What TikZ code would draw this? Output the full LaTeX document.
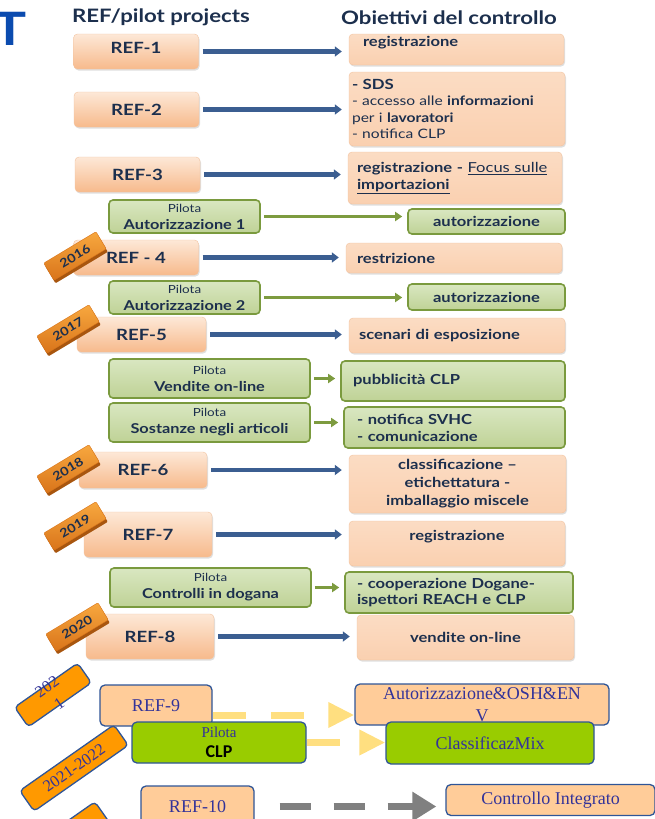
\documentclass[tikz,border=0pt]{standalone}
\usepackage{fontspec}
\setmainfont{Lato}[FakeStretch=1.2]
\newfontfamily\tmsfont{Liberation Serif}
\newfontfamily\clpfont{Carlito}
\usetikzlibrary{arrows.meta,shadows}
\definecolor{navytext}{HTML}{1C2F4D}
\definecolor{titleblue}{HTML}{0B4BAF}
\definecolor{peachtop}{HTML}{FDE8D7}
\definecolor{peachbot}{HTML}{F7BA8C}
\definecolor{peachflat}{HTML}{FAD0B0}
\definecolor{peachedge}{HTML}{F2C3A0}
\definecolor{greentop}{HTML}{D9E7C1}
\definecolor{greenbot}{HTML}{BFD296}
\definecolor{oliveline}{HTML}{7A9A3E}
\definecolor{arrowblue}{HTML}{3B5E91}
\definecolor{arrowgreen}{HTML}{7D9B3F}
\definecolor{badgetop}{HTML}{F7A83F}
\definecolor{badgebot}{HTML}{D9741A}
\definecolor{badgeside}{HTML}{A8560F}
\definecolor{oldpeach}{HTML}{FFCC99}
\definecolor{oldgreen}{HTML}{99CC00}
\definecolor{oldorange}{HTML}{FF9900}
\definecolor{oldborder}{HTML}{2F5597}
\definecolor{oldtext}{HTML}{333399}
\definecolor{dashyellow}{HTML}{FFDF80}
\definecolor{dashgray}{HTML}{808080}
\newcommand\pbold[1]{{\bfseries\fontsize{13.6}{17}\selectfont #1}}
\tikzset{refbox/.style={rounded corners=4pt,draw=peachedge,top color=peachtop,bottom color=peachbot,
           drop shadow={shadow xshift=1pt,shadow yshift=-1.5pt,opacity=.25},text=navytext,
           font=\bfseries\fontsize{15.5}{18}\selectfont,minimum width=125pt,minimum height=35pt,inner sep=0pt},
         goalbox/.style={rounded corners=4pt,draw=peachedge,top color=peachtop!50!peachflat,bottom color=peachflat,
           drop shadow={shadow xshift=1pt,shadow yshift=-1.5pt,opacity=.25},text=navytext,
           font=\bfseries\fontsize{13.8}{17}\selectfont,minimum width=216pt,inner sep=0pt},
         pilotbox/.style={rounded corners=4pt,draw=oliveline,line width=1.6pt,top color=greentop,bottom color=greenbot,
           text=navytext,align=center,font=\fontsize{11.2}{17}\selectfont,inner sep=0pt},
         goalgreen/.style={pilotbox,font=\bfseries\fontsize{13.8}{17}\selectfont},
         yearbadge/.style={rotate=31,rounded corners=1pt,draw=badgebot,top color=badgetop,bottom color=badgebot,
           text=navytext,font=\bfseries\fontsize{12}{12}\selectfont,minimum width=61pt,minimum height=20pt,
           inner sep=0pt,drop shadow={shadow xshift=1.5pt,shadow yshift=-3pt,fill=badgeside,opacity=1}},
         refarrow/.style={draw=arrowblue,line width=4.5pt,-{Triangle[length=7pt,width=10pt]},
           shorten <=4pt,shorten >=7pt},
         pilotarrow/.style={draw=arrowgreen,line width=3.5pt,-{Triangle[length=7pt,width=9pt]},
           shorten <=3pt,shorten >=5pt},
         oldbox/.style={rounded corners=5pt,draw=oldborder,line width=1.3pt,fill=oldpeach,text=oldtext,
           font=\tmsfont\fontsize{18}{22}\selectfont,inner sep=0pt},
         oldgreenbox/.style={oldbox,fill=oldgreen},
         oldbadge/.style={rotate=35,rounded corners=4pt,draw=oldborder,line width=1.3pt,fill=oldorange,
           text=oldtext,font=\tmsfont\fontsize{16.5}{21}\selectfont,inner sep=0pt,minimum height=25pt},
         yellowdash/.style={draw=dashyellow,line width=7pt,dash pattern=on 33pt off 25pt,
           -{Triangle[length=26pt,width=24pt]}},
         graydash/.style={draw=dashgray,line width=7pt,dash pattern=on 31pt off 23pt,
           -{Triangle[length=24pt,width=28pt]},shorten <=25pt,shorten >=9pt}
}
\begin{document}
\begin{tikzpicture}[x=1pt,y=-1pt]
\useasboundingbox (0,0) rectangle (654,819);
% titles
\node[anchor=base,text=titleblue,font=\bfseries\fontsize{46}{46}\selectfont] (ttl) at (10,45) {T};
\node[text=navytext,font=\bfseries\fontsize{18.5}{20}\selectfont] (hl) at (161,17) {REF/pilot projects};
\node[text=navytext,font=\bfseries\fontsize{18.5}{20}\selectfont] (hr) at (449,18) {Obiettivi del controllo};

% REF projects
\node[refbox,text height=11pt,text depth=8pt] (r1) at (136,51.5) {REF-1};
\node[refbox] (r2) at (136.5,109.5) {REF-2};
\node[refbox] (r3) at (137.5,174.5) {REF-3};
\node[refbox] (r4) at (136,257.5) {REF - 4};
\node[refbox,minimum width=129pt] (r5) at (141.5,334.5) {REF-5};
\node[refbox,minimum width=128pt,minimum height=36pt] (r6) at (143,470) {REF-6};
\node[refbox,minimum width=128pt,minimum height=45pt] (r7) at (148,534.5) {REF-7};
\node[refbox,minimum width=128pt,minimum height=45pt] (r8) at (150,636.5) {REF-8};

% pilot projects
\node[pilotbox,minimum width=151pt,minimum height=33pt] (p1) at (184.5,216.5) {Pilota\\\pbold{Autorizzazione 1}};
\node[pilotbox,minimum width=151pt,minimum height=33pt] (p2) at (184.5,297.5) {Pilota\\\pbold{Autorizzazione 2}};
\node[pilotbox,minimum width=201pt,minimum height=39pt] (p3) at (209.5,378.5) {Pilota\\\pbold{Vendite on-line}};
\node[pilotbox,minimum width=201pt,minimum height=39pt] (p4) at (209.5,422.5) {Pilota\\\pbold{Sostanze negli articoli}};
\node[pilotbox,minimum width=201pt,minimum height=39pt] (p5) at (210.5,587.5) {Pilota\\\pbold{Controlli in dogana}};

% objectives
\node[goalbox,minimum width=215pt,minimum height=31pt,text width=187pt,inner xsep=14pt,align=left,
      text height=10pt,text depth=17pt] (g1) at (456.5,49.5) {registrazione};
\node[goalbox,minimum height=74pt,text width=210pt,inner xsep=3pt,align=left,
      font=\fontsize{13}{16.5}\selectfont] (g2) at (457,109)
      {{\bfseries\fontsize{14}{16.5}\selectfont - SDS}\\- accesso alle \textbf{informazioni}\\per i \textbf{lavoratori}\\- notifica CLP};
\node[goalbox,minimum width=214pt,minimum height=52pt,text width=196pt,inner xsep=9pt,align=left] (g3) at (455,178)
      {registrazione - {\mdseries\underline{Focus sulle}}\\\underline{importazioni}};
\node[goalgreen,minimum width=157pt,minimum height=25pt] (g4) at (486.5,221.5) {autorizzazione};
\node[goalbox,minimum height=30pt,text width=194pt,inner xsep=11pt,align=left] (g5) at (454,258) {restrizione};
\node[goalgreen,minimum width=157pt,minimum height=26pt] (g6) at (486.5,297) {autorizzazione};
\node[goalbox,minimum height=35pt,text width=196pt,inner xsep=10pt,align=left] (g7) at (457,335.5) {scenari di esposizione};
\node[goalgreen,minimum width=224pt,minimum height=40pt,text width=200pt,inner xsep=12pt,align=left] (g8) at (453,381) {pubblicità CLP};
\node[goalgreen,minimum width=221pt,minimum height=41pt,text width=195pt,inner xsep=13pt,align=left] (g9) at (454.5,427.5)
      {- notifica SVHC\\- comunicazione};
\node[goalbox,minimum width=217pt,minimum height=58pt,align=center,font=\bfseries\fontsize{13.8}{18}\selectfont] (g10) at (457.5,484)
      {classificazione --\\etichettatura -\\imballaggio miscele};
\node[goalbox,minimum height=45pt,align=center,text height=10pt,text depth=17pt] (g11) at (457,543.5) {registrazione};
\node[goalgreen,minimum width=228pt,minimum height=41pt,text width=204pt,inner xsep=12pt,align=left,
      font=\bfseries\fontsize{13.8}{16.5}\selectfont] (g12) at (459,592.5) {- cooperazione Dogane-\\ispettori REACH e CLP};
\node[goalbox,minimum width=217pt,minimum height=45pt,align=center] (g13) at (465.5,637.5) {vendite on-line};

% connectors
\draw[refarrow] (r1.east) -- (r1.east -| g1.west);
\draw[refarrow] (r2.east) -- (r2.east -| g2.west);
\draw[refarrow] (r3.east) -- (r3.east -| g3.west);
\draw[refarrow] (r4.east) -- (r4.east -| g5.west);
\draw[refarrow] (r5.east) -- (r5.east -| g7.west);
\draw[refarrow] (r6.east) -- (r6.east -| g10.west);
\draw[refarrow] (r7.east) -- (r7.east -| g11.west);
\draw[refarrow] (r8.east) -- (r8.east -| g13.west);
\draw[pilotarrow] (p1.east) -- (p1.east -| g4.west);
\draw[pilotarrow] (p2.east) -- (p2.east -| g6.west);
\draw[pilotarrow] (p3.east) -- (p3.east -| g8.west);
\draw[pilotarrow] (p4.east) -- (p4.east -| g9.west);
\draw[pilotarrow] (p5.east) -- (p5.east -| g12.west);

% years
\node[yearbadge] (y16) at (75,256) {2016};
\node[yearbadge] (y17) at (68,329) {2017};
\node[yearbadge] (y18) at (68,469) {2018};
\node[yearbadge] (y19) at (75,526) {2019};
\node[yearbadge] (y20) at (77,627) {2020};

% 2021 onwards
\node[oldbox,minimum width=112pt,minimum height=41pt] (r9) at (156,705.5) {REF-9};
\node[oldgreenbox,minimum width=174pt,minimum height=41pt,align=center,font=\tmsfont\fontsize{15}{20}\selectfont]
      (pclp) at (219,742.5) {Pilota\\{\clpfont\bfseries\color{black}\fontsize{18}{20}\selectfont CLP}};
\node[oldbox,minimum width=113pt,minimum height=41pt] (r10) at (197.5,806.5) {REF-10};
\node[oldbox,minimum width=254pt,minimum height=41pt,align=center] (gaut) at (482,704.5) {Autorizzazione\&OSH\&EN\\V};
\node[oldgreenbox,minimum width=208pt,minimum height=42pt] (gmix) at (490,743) {ClassificazMix};
\node[oldbox,minimum width=209pt,minimum height=31pt] (gint) at (550.5,800) {Controllo Integrato};
\draw[yellowdash] ([yshift=-9.5pt]r9.east) -- ([yshift=-9.5pt]r9.east -| gaut.west);
\draw[yellowdash] (pclp.east) -- (pclp.east -| gmix.west);
\draw[graydash] (r10.east) -- (r10.east -| gint.west);
\node[oldbadge,minimum width=77pt,minimum height=24pt] (y21) at (53,695) {};
\node[rotate=35,align=center,text=oldtext,font=\tmsfont\fontsize{16.5}{21}\selectfont] (y21t) at (y21.center) {202\\1};
\node[oldbadge,minimum width=115pt] (y2122) at (74,768) {2021-2022};
\node[oldbadge,minimum width=115pt] (ynext) at (55,845) {};
\end{tikzpicture}
\end{document}
